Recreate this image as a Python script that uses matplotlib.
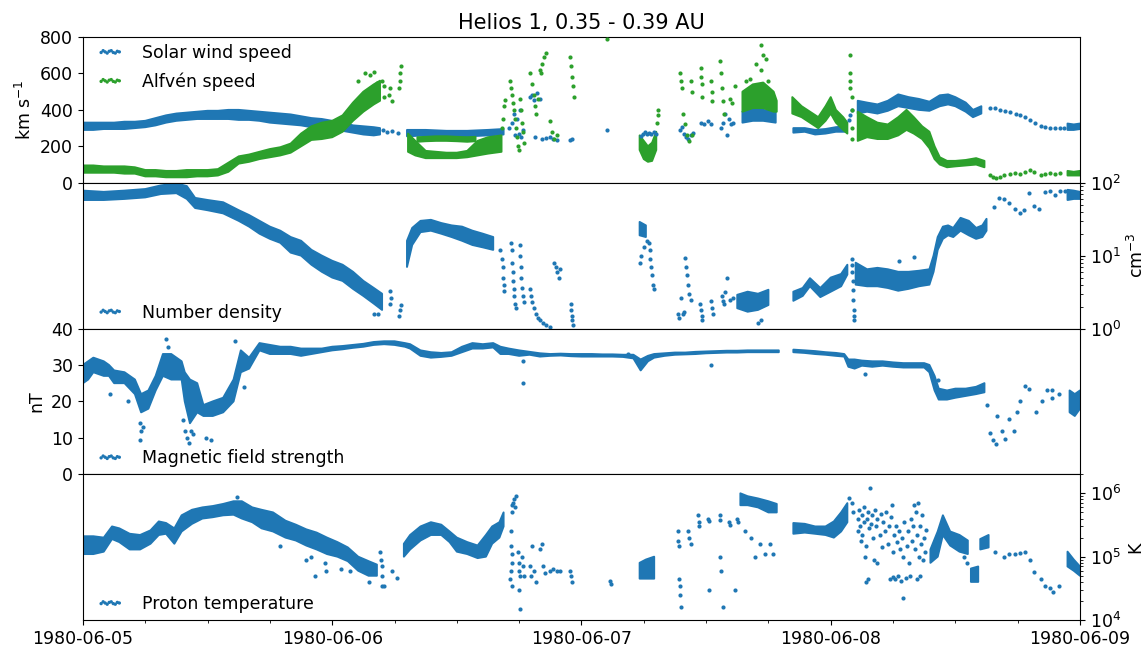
import numpy as np
import pandas as pd
import matplotlib
matplotlib.use("Agg")
import matplotlib.pyplot as plt
import matplotlib.dates as mdates

nan = np.nan
START = "1980-06-05"
BLUE = "#1f77b4"
GREEN = "#2ca02c"

# ---------------- Solar wind speed (km/s) ----------------
vsw_band_t = [0, 1, 2, 3, 4, 5, 6, 7, 8, 9, 10, 11, 12, 13, 14, 15, 16, 17, 18, 19, 20, 21, 22, 23, 24, 25, 26, 27, 28, 28.6,
              29.0,
              31.2, 33, 35, 37, 39, 40.5,
              41.0,
              63.5, 64.5, 65.5, 66.7,
              67.0,
              68.4, 69.5, 70.5, 71.5, 72.5, 73.5,
              74.0,
              74.6, 75.5, 76.5, 77.5, 78.5, 79.5, 80.5, 81.5, 82.5, 83.3, 84.0, 85.0, 85.7, 86.5,
              87.0,
              94.8, 95.4, 96]
vsw_band_lo = [290, 290, 295, 295, 295, 300, 305, 315, 330, 340, 345, 350, 350, 350, 350, 345, 345, 340, 330, 325, 320, 315, 305, 300, 290, 285, 275, 265, 260, 265,
               nan,
               255, 260, 260, 255, 260, 265,
               nan,
               330, 340, 340, 330,
               nan,
               275, 280, 265, 270, 280, 280,
               nan,
               380, 390, 380, 395, 420, 410, 400, 395, 420, 430, 420, 390, 360, 380,
               nan,
               290, 290, 295]
vsw_band_hi = [330, 330, 330, 330, 335, 335, 340, 355, 370, 380, 385, 390, 395, 395, 400, 400, 395, 390, 385, 380, 375, 365, 355, 350, 340, 330, 315, 310, 305, 300,
               nan,
               290, 290, 285, 285, 290, 295,
               nan,
               390, 420, 400, 390,
               nan,
               300, 300, 290, 295, 305, 310,
               nan,
               450, 440, 430, 450, 485, 470, 460, 445, 480, 485, 470, 440, 400, 420,
               nan,
               325, 320, 325]
vsw_pts_t = [28.9, 29.3, 29.8, 30.3, 41.0, 41.3, 41.5, 41.6, 41.8, 42.0, 42.1, 42.2, 42.4, 43.0, 43.2, 43.4, 43.7, 44.0,
             43.5, 44.2, 44.6, 45.0, 45.3, 45.6, 46.9, 47.1, 50.5,
             53.7, 53.9, 54.1, 54.3, 54.5, 54.7, 55.0, 55.2,
             57.5, 57.7, 57.9, 58.1, 58.3, 58.5, 58.7, 59.5, 59.8, 60.2, 60.5,
             61.4, 61.6, 61.8, 62.0, 62.2, 62.4, 62.6, 73.8, 73.9, 74.0,
             87.3, 87.8, 88.3, 88.8, 89.3, 89.8, 90.2, 90.7, 91.2, 91.7, 92.2, 92.6, 93.1, 93.6, 94.1, 94.5]
vsw_pts_v = [290, 280, 285, 275, 300, 330, 380, 260, 350, 270, 400, 250, 290, 470, 480, 455, 490, 460,
             250, 240, 245, 250, 240, 235, 235, 240, 290,
             255, 270, 280, 265, 275, 270, 280, 265,
             290, 305, 270, 250, 240, 260, 275, 330, 320, 340, 325,
             300, 330, 380, 260, 350, 320, 330, 345, 370, 400,
             413, 410, 400, 395, 390, 380, 372, 360, 345, 330, 312, 305, 300, 300, 300, 302]

# ---------------- Alfven speed (km/s) ----------------
va_band_t = [0, 1, 2, 3, 4, 5, 6, 7, 8, 9, 10, 11, 12, 13, 14, 15, 16, 17, 18, 19, 20, 21, 22, 23, 24, 25, 26, 27, 28, 28.6,
             29.0,
             31.3, 32, 33, 34, 35, 36, 37, 38, 39, 40.3,
             40.5,
             32.2, 33, 34, 35, 36, 37, 37.8,
             38.3,
             53.6, 54.0, 54.4, 54.8, 55.2,
             55.4,
             63.5, 64.5, 65.5, 66.5, 66.8,
             67.0,
             68.3, 69.2, 70.0, 70.8, 71.5, 72.0, 72.5, 73.2, 73.6,
             73.8,
             74.6, 75.5, 76.5, 77.5, 78.5, 79.3, 80.0, 80.8, 81.5, 82.0, 82.5, 83.2, 84, 85, 86, 86.8,
             87.0,
             94.8, 95.4, 96]
va_band_lo = [55, 55, 55, 55, 50, 50, 35, 35, 30, 30, 30, 35, 35, 40, 60, 105, 115, 130, 140, 150, 165, 200, 235, 240, 250, 280, 340, 390, 430, 450,
              nan,
              170, 150, 135, 135, 135, 135, 140, 150, 160, 170,
              nan,
              225, 228, 230, 230, 228, 225, 228,
              nan,
              180, 130, 115, 120, 180,
              nan,
              390, 410, 410, 390, 390,
              nan,
              380, 360, 330, 300, 340, 380, 330, 290, 270,
              nan,
              230, 250, 240, 240, 260, 290, 270, 240, 190, 130, 100, 85, 90, 95, 100, 85,
              nan,
              40, 40, 40]
va_band_hi = [95, 95, 90, 90, 90, 85, 70, 70, 65, 65, 70, 70, 70, 75, 110, 145, 155, 170, 185, 195, 215, 270, 310, 330, 340, 370, 440, 500, 540, 560,
              nan,
              270, 230, 175, 170, 165, 165, 175, 230, 250, 260,
              nan,
              250, 252, 255, 255, 252, 250, 252,
              nan,
              260, 230, 200, 220, 280,
              nan,
              500, 540, 550, 500, 450,
              nan,
              470, 420, 390, 360, 420, 470, 400, 360, 330,
              nan,
              390, 360, 330, 320, 360, 400, 360, 310, 280, 200, 140, 120, 120, 125, 135, 120,
              nan,
              65, 60, 65]
va_pts_t = [26.5, 27.2, 27.6, 28.0, 28.3, 28.8, 29.0, 29.0, 29.5, 29.6, 29.8, 30.4, 30.5, 30.5, 30.6,
            40.3, 40.4, 40.5, 40.6, 41.1, 41.2, 41.3, 41.4, 41.5, 41.6, 41.7, 41.8, 41.9, 42.0, 42.1, 42.2, 42.3, 42.4, 42.5,
            43.0, 43.2, 43.4, 43.5, 43.6, 43.8, 44.0, 44.2, 44.4, 44.6, 44.1, 45.0, 45.2, 45.4, 45.6,
            46.9, 47.0, 47.1, 47.2, 47.3, 50.5, 55.3, 55.4, 55.4,
            57.5, 57.6, 57.7, 57.8, 58.0, 58.2, 58.4, 58.6, 58.5, 58.6, 59.5, 59.5, 59.6, 59.6, 60.5, 60.6, 60.6,
            61.3, 61.4, 61.5, 61.6, 61.7, 62.3, 62.5, 62.8, 64.8, 65.3, 65.5, 65.8, 65.3, 64.2, 66.0, 63.8,
            73.9, 73.9, 73.9, 73.9, 74.0, 74.0, 74.0, 74.0,
            87.3, 87.6, 87.9, 88.3, 88.7, 89.3, 89.7, 90.2, 90.7, 91.2, 91.6, 92.2, 92.6, 93.1, 93.6, 94.1]
va_pts_v = [560, 600, 590, 610, 550, 560, 470, 530, 480, 520, 450, 520, 560, 600, 640,
            300, 350, 420, 455, 560, 520, 480, 440, 400, 350, 300, 250, 200, 180, 460, 400, 330, 280, 220,
            600, 540, 480, 420, 380, 460, 620, 650, 690, 710, 600, 340, 280, 240, 260,
            690, 640, 580, 530, 470, 790, 330, 370, 400,
            600, 560, 520, 380, 320, 260, 230, 260, 560, 500, 630, 580, 540, 470, 560, 500, 450,
            670, 600, 520, 450, 380, 460, 440, 530, 650, 755, 700, 680, 620, 570, 560, 560,
            700, 600, 560, 520, 470, 400, 300, 240,
            40, 30, 25, 30, 40, 50, 55, 50, 60, 70, 60, 45, 48, 55, 50, 55]

# ---------------- Number density (cm^-3) ----------------
n_band_t = [0, 2, 4, 6, 7.5, 9, 10, 10.8, 12, 13.5, 15, 16, 17, 18, 19, 20, 21, 22, 23, 24, 25, 26, 27, 28, 28.8,
            29.2,
            31.2, 31.7, 32.5, 33.5, 34.5, 35.5, 36.5, 37.5, 38.5, 39.5,
            40.0,
            53.6, 54.2,
            54.5,
            63.0, 64, 65, 66,
            66.5,
            68.4, 69.3, 70.0, 71.0, 72.0, 73.0, 73.6,
            74.0,
            74.4, 75.5, 76.5, 77.5, 78.5, 79.5, 80.5, 81.5, 81.9, 82.3, 82.8, 83.3, 83.8, 84.5, 85.3, 86.0, 86.6, 87.0,
            87.4,
            94.8, 95.4, 96]
n_band_lo = [58, 58, 60, 63, 70, 72, 60, 45, 42, 38, 30, 25, 20, 17, 15, 11, 10, 7.5, 6, 5, 4.5, 3.5, 2.8, 2.2, 1.8,
             nan,
             7, 14, 21, 22, 20, 18, 16, 14, 13, 12,
             nan,
             19, 18,
             nan,
             1.9, 1.7, 1.8, 2.1,
             nan,
             2.4, 2.8, 3.8, 2.7, 3.2, 3.8, 5.5,
             nan,
             4, 3.8, 3.8, 3.6, 3.3, 3.5, 3.8, 4, 6, 12, 17, 19, 18, 22, 19, 17, 18, 22,
             nan,
             58, 60, 60]
n_band_hi = [78, 75, 78, 82, 92, 98, 90, 62, 58, 54, 42, 36, 30, 25, 22, 18, 16, 12, 10, 8.5, 7.5, 6, 4.5, 3.6, 3.0,
             nan,
             16, 24, 30, 31, 28, 26, 25, 22, 20, 18,
             nan,
             29, 26,
             nan,
             2.9, 3.2, 3.0, 3.4,
             nan,
             3.2, 3.6, 4.9, 3.6, 5.0, 5.6, 7.5,
             nan,
             8, 6.5, 6.8, 6.5, 6, 6, 6.2, 6.5, 10, 18, 25, 26, 24, 33, 30, 24, 26, 32,
             nan,
             80, 78, 75]
n_pts_t = [29.6, 29.6, 29.7, 30.4, 30.5, 30.6, 28.0, 28.4,
           40.2, 40.3, 40.4, 40.4, 40.5, 40.5, 41.2, 41.3, 41.3, 41.4, 41.4, 41.5, 41.5, 41.6, 41.7,
           42.1, 42.1, 42.2, 42.2, 42.3, 42.4, 42.5, 43.0, 43.1, 43.2, 43.4, 43.6, 43.8, 44.0, 44.3, 44.6, 45.0,
           45.4, 45.5, 45.6, 45.8, 45.9, 47.0, 47.0, 47.1, 47.1, 47.2,
           53.6, 53.7, 54.0, 54.3, 54.5, 54.6, 54.6, 54.7, 54.8, 54.9, 55.0,
           57.3, 57.4, 57.6, 57.8, 57.9, 58.0, 58.1, 58.2, 58.3, 58.4, 58.5, 59.4, 59.5, 59.6, 59.6,
           60.5, 60.6, 60.7, 61.5, 61.6, 61.7, 61.8, 62.0, 62.3, 62.6, 65.0, 65.3,
           74.0, 74.0, 74.0, 74.1, 74.1, 74.1, 74.2, 74.2, 74.2, 78.6, 80.0,
           87.7, 88.2, 88.7, 89.2, 89.7, 90.2, 90.6, 91.1, 91.6, 92.1, 92.6, 93.1, 93.6, 94.1, 94.6]
n_pts_v = [2.2, 3.3, 2.6, 1.5, 1.8, 2.1, 1.6, 1.6,
           12, 9, 7, 5, 4, 3.3, 15, 12, 8, 6, 4.5, 3.5, 2.8, 2.2, 1.9,
           14, 10, 7, 5, 3.6, 2.8, 2.3, 3.5, 2.8, 2.3, 1.9, 1.6, 1.4, 1.3, 1.2, 1.1, 1.05,
           8, 7, 6, 5, 6.5, 2.2, 1.8, 1.5, 1.3, 1.1,
           8, 10, 13, 16, 15, 12, 9, 7, 5.5, 4, 3.5,
           1.6, 1.4, 2.6, 1.6, 1.7, 9.3, 7, 5.5, 4, 3, 2.5, 2.2, 1.8, 1.5, 1.3,
           2.4, 1.9, 1.6, 2.8, 2.4, 2.2, 3.2, 4.9, 2.5, 2.6, 1.2, 1.3,
           9, 7.5, 6, 4.5, 3.4, 2.5, 1.8, 1.5, 1.3, 8.5, 9.5,
           46, 62, 60, 53, 44, 38, 42, 73, 48, 44, 75, 78, 68, 78, 78]

# ---------------- Magnetic field strength (nT) ----------------
b_band_t = [0, 0.5, 1, 2, 2.5, 3, 4, 5, 5.6, 6.3, 7, 7.7, 8.5, 9.5, 9.8, 10.3, 11, 11.6, 12.5, 13.5, 14.5, 15.2, 16,
            17, 18, 19, 20, 21, 22, 23, 24, 25, 26, 27, 28, 29, 30, 31, 31.5, 32.5, 33.5, 34.5, 35.5, 36.5, 37.5,
            38.5, 39.5, 40.2, 41, 42, 43, 44, 45, 46, 47, 48, 49, 50, 51, 52, 53, 53.7, 54.4, 55, 56, 57, 58, 59,
            60, 61, 62, 63, 64, 65, 66, 67,
            67.5,
            68.4, 69.5, 70.5, 71.5, 72.5, 73.3, 73.7, 74.3, 75, 76, 77, 78, 79, 80, 81, 81.5, 82, 82.4, 83.2, 84,
            85, 86, 86.8,
            87.0,
            95, 95.5, 96]
b_band_lo = [25, 26, 28, 27, 27, 25, 25, 22, 17, 18, 23, 27, 26, 26, 20, 14, 17, 16, 16, 17, 20, 28, 29,
             34, 33, 33, 33, 32.5, 33, 33.5, 34, 34.3, 34.7, 35, 35.5, 35.7, 35.5, 35, 34.5, 32.5, 32, 32.2, 32.5, 33.5, 34.5,
             34.5, 34.8, 33, 33, 32.5, 32.8, 32.3, 32.5, 32.6, 32.4, 32.3, 32.3, 32.3, 32.3, 32.2, 31.8, 28.5, 31, 32, 32.5, 32.8, 32.9, 33,
             33.2, 33.3, 33.4, 33.4, 33.5, 33.5, 33.5, 33.5,
             nan,
             33.5, 33.3, 33, 32.8, 32.5, 32.3, 29.5, 29, 29.8, 29.5, 29.8, 29.5, 29.3, 29.3, 29.3, 28, 23, 20.5, 20.5, 21,
             21.5, 22, 22.5,
             nan,
             17, 16, 18]
b_band_hi = [30, 31, 32, 31, 30, 28.5, 28, 26, 22, 23, 27, 33, 33, 31, 28, 26, 25, 19, 20, 21, 26, 34, 32,
             36, 35.5, 35, 35, 34.5, 34.5, 34.5, 35, 35.2, 35.5, 35.8, 36.3, 36.5, 36.5, 36, 35.7, 34, 33.5, 33.3, 33.5, 35, 36,
             35.7, 36, 35, 34.5, 34, 33.6, 33.2, 33, 33.1, 33, 33, 33, 32.9, 32.9, 32.8, 32.8, 31.5, 32.5, 33, 33.2, 33.4, 33.4, 33.6,
             33.7, 33.8, 33.9, 33.9, 34, 34, 34, 34,
             nan,
             34.2, 34, 33.8, 33.5, 33.3, 33, 31.5, 31.5, 31.2, 31, 31, 30.7, 30.5, 30.5, 30.5, 30, 27, 23.5, 23, 23.5,
             23.5, 24, 25,
             nan,
             23, 22, 23]
b_pts_t = [5.5, 5.6, 5.5, 5.8, 9.8, 10.0, 10.2, 10.4, 11.8, 12.3, 8.0, 8.2, 14.6, 2.6, 4.3, 15.5, 9.6, 10.6,
           42.4, 42.4, 52.5, 60.5, 75.3, 82.3,
           87.0, 87.3, 87.6, 87.9, 88.0, 88.5, 88.8, 89.2, 89.6, 89.9, 90.2, 90.7, 91.1, 91.8, 92.3, 92.8, 93.3, 93.3, 94.0]
b_pts_v = [14, 12, 9.5, 13, 12, 10, 8.5, 12, 10, 9.5, 37, 35, 36.5, 22, 20, 24, 15, 11,
           31, 25, 33, 30, 27.5, 26,
           19, 11.2, 9.5, 8.2, 16, 12, 9.7, 15.2, 12, 17, 20, 24.3, 23.5, 17, 20, 23, 21, 23, 22]

# ---------------- Proton temperature (K) ----------------
t_band_t = [0, 1, 2, 2.8, 3.5, 4.5, 5.5, 6.5, 7.3, 8, 8.8, 9.5, 10.5, 11.5, 12.5, 13.5, 14.5, 15.3, 16.3, 17.2,
            18.3, 19.5, 20.5, 21.5, 22.5, 23.5, 24.5, 25.5, 26.5, 27.5, 28.3,
            28.5,
            30.9, 31.5, 32.5, 33.5, 34.5, 35.3, 36, 37, 38, 38.8, 39.4, 40.1, 40.5,
            40.8,
            53.6, 54.2, 55,
            55.3,
            63.3, 64, 65, 66, 66.8,
            67,
            68.4, 69.5, 70.5, 71.5, 72.3, 73, 73.6,
            74,
            81.6, 82.3, 82.8, 83.5, 84.4, 85.2,
            85.3,
            85.5, 86.2,
            86.3,
            86.4, 87.2,
            87.4,
            94.8, 95.4, 96]
t_band_lo = [1.1e5, 1.1e5, 1.2e5, 1.9e5, 1.7e5, 1.3e5, 1.3e5, 1.6e5, 2.2e5, 2.3e5, 1.6e5, 2.5e5, 3.3e5, 4e5, 4.2e5, 4.5e5, 4.6e5, 4e5, 3.5e5, 2.8e5,
             2.5e5, 2e5, 1.8e5, 1.5e5, 1.3e5, 1.1e5, 1e5, 8.5e4, 6e4, 5e4, 5e4,
             nan,
             1e5, 1.3e5, 1.8e5, 2.2e5, 2.2e5, 1.7e5, 1.2e5, 1.1e5, 9.5e4, 1e5, 1.6e5, 2e5, 3e5,
             nan,
             4.5e4, 4.5e4, 4.5e4,
             nan,
             6.5e5, 6.5e5, 6e5, 5e5, 5e5,
             nan,
             2.3e5, 2.4e5, 2.3e5, 2.2e5, 2e5, 2.5e5, 3.5e5,
             nan,
             8e4, 1e5, 2.2e5, 1.5e5, 1.2e5, 1.1e5,
             nan,
             4e4, 4e4,
             nan,
             1.3e5, 1.4e5,
             nan,
             7e4, 6e4, 5e4]
t_band_hi = [2.1e5, 2.1e5, 2e5, 3e5, 2.8e5, 2.3e5, 2.2e5, 2.6e5, 3.6e5, 3.4e5, 2.8e5, 4.5e5, 5.5e5, 6e5, 6.3e5, 6.8e5, 7.5e5, 7.5e5, 6e5, 5.5e5,
             5e5, 3.7e5, 3.2e5, 2.7e5, 2.4e5, 2e5, 1.7e5, 1.4e5, 1e5, 8.5e4, 7.5e4,
             nan,
             1.6e5, 2.2e5, 3e5, 3.5e5, 3.2e5, 2.5e5, 2e5, 1.7e5, 1.5e5, 2.2e5, 3e5, 3.5e5, 5e5,
             nan,
             8e4, 9e4, 1e5,
             nan,
             1e6, 9e5, 8.3e5, 7.5e5, 6.8e5,
             nan,
             3.4e5, 3.3e5, 3e5, 3e5, 3.6e5, 5e5, 7e5,
             nan,
             1.3e5, 2.5e5, 4.5e5, 2.5e5, 2.2e5, 1.8e5,
             nan,
             6.5e4, 7e4,
             nan,
             1.9e5, 2.2e5,
             nan,
             1.2e5, 9e4, 7e4]
t_pts_t = [14.8, 19.0, 21.5, 22.0, 23.3, 23.4, 22.3, 24.8, 25.7, 27.5, 28.6, 28.7, 28.8, 28.8, 28.8, 29.0, 29.8, 30.2,
           41.3, 41.3, 41.4, 41.5, 41.6, 41.7, 41.2, 41.2, 41.3, 41.3, 41.2, 41.1, 41.3, 41.9, 42.0, 42.0, 42.1, 42.0, 42.1,
           42.3, 42.4, 42.5, 43.0, 43.1, 43.2, 43.4, 43.6, 44.0, 44.2, 44.3, 44.5, 45.0, 45.3, 45.6, 45.9, 46.9, 47.0, 47.1,
           50.7, 50.8,
           57.3, 57.3, 57.4, 57.4, 57.5, 57.5, 57.6, 58.3, 58.4, 58.5, 59.2, 59.3, 59.3, 60.2, 60.3, 60.3,
           61.3, 61.3, 61.3, 61.4, 61.6, 62.2, 62.3, 62.8, 63.0, 63.1,
           63.7, 64.3, 64.7, 65.2, 65.7, 66.2, 66.4, 73.8, 74.0, 74.1, 75.8,
           74.6, 74.6, 74.7, 74.8, 74.9, 75.0, 75.0, 75.2, 75.2, 75.3, 75.4, 75.5, 75.6, 75.7, 75.9, 76.0, 76.1, 76.2,
           76.3, 76.4, 76.5, 76.7, 76.8, 76.9, 77.0, 77.2, 77.3, 77.5, 77.6, 77.8, 77.9, 78.0, 78.1, 78.2, 78.3, 78.4,
           78.5, 78.6, 78.7, 78.8, 78.9, 79.0, 79.1, 79.2, 79.3, 79.4, 79.5, 79.6, 79.7, 79.8, 79.9, 80.0, 80.1, 80.2,
           80.3, 80.4, 80.5, 80.6, 80.7, 80.8, 81.0, 81.1, 81.2, 75.6, 75.4, 79.0, 76.5, 80.9, 77.7, 78.0, 80.3, 80.6,
           84.8, 85.1, 87.8, 88.7, 89.2, 89.7, 90.2, 90.7, 91.2, 91.6, 92.2, 92.6, 93.1, 93.4, 94.0]
t_pts_v = [8.7e5, 1.5e5, 9e4, 1e5, 8e4, 6e4, 5e4, 6.5e4, 6e4, 4e4, 1.2e5, 9e4, 7e4, 5e4, 3.5e4, 3.5e4, 6e4, 4.6e4,
           5e5, 6.5e5, 7e5, 8e5, 6e5, 9e5, 2.5e5, 1.5e5, 1.1e5, 8e4, 6e4, 4.5e4, 3.5e4, 1.2e5, 8e4, 6e4, 5e4, 3e4, 1.5e4,
           1e5, 7e4, 5e4, 7e4, 5e4, 1.5e5, 6e4, 4e4, 1.3e5, 1.6e5, 7e4, 5.5e4, 6e4, 6.5e4, 6e4, 6e4, 6e4, 5e4, 4e4,
           4.2e4, 3.7e4,
           2.5e5, 1.8e5, 1.5e5, 4.5e4, 3.5e4, 2.5e4, 1.6e4, 2.5e5, 2e5, 1.6e5, 4.5e5, 3.5e5, 3e5, 4e5, 3.6e5, 3e4,
           4.5e5, 3.8e5, 1e5, 6e4, 1.6e4, 3.5e5, 3.2e5, 3e4, 4e5, 3.5e5,
           2.5e5, 2e5, 1e5, 1.6e5, 1.1e5, 1.6e5, 1.1e5, 8.5e5, 7e5, 5e5, 1.2e6,
           2.5e5, 4e5, 5.5e5, 3e5, 1.8e5, 4.5e5, 2.2e5, 6e5, 3.5e5, 1e5, 1.5e5, 4e5, 5e5, 2.8e5, 3.3e5, 4.5e5, 2e5, 9e4,
           5.5e5, 3e5, 4e5, 2.2e5, 4.8e5, 1.4e5, 3.5e5, 2.5e5, 5e5, 1.6e5, 3e5, 4.2e5, 6.5e5, 1.2e5, 2.2e5, 4.5e4, 3e5, 1.7e5,
           5e4, 2.5e5, 1.3e5, 4.2e4, 2e5, 1e5, 3.5e5, 4.6e4, 1.5e5, 2.5e5, 8e4, 5e4, 4e5, 1.8e5, 3e5, 6.5e5, 1.3e5, 5e5,
           2.2e5, 7e5, 1e5, 3e5, 1.6e5, 4.5e5, 2e5, 1.2e5, 2.6e5, 4.5e4, 4e4, 2.2e4, 8e4, 9e4, 4.5e4, 4.8e4, 4.4e4, 5e4,
           1e5, 8e4, 1.2e5, 1e5, 1.1e5, 1.1e5, 1.15e5, 1.2e5, 9e4, 5.8e4, 4.5e4, 3.5e4, 3.2e4, 2.8e4, 3.5e4]


def hrs(h):
    return (pd.Timestamp(START) + pd.to_timedelta(np.asarray(h, dtype=float), unit="h")).to_numpy()


def draw(ax, bt, blo, bhi, pt, pv, color, label):
    ax.fill_between(hrs(bt), np.asarray(blo, float), np.asarray(bhi, float),
                    color=color, edgecolor=color, linewidth=1.4, zorder=2)
    return ax.scatter(hrs(pt), pv, s=9, color=color, linewidths=0, zorder=3, label=label)


plt.rcParams["font.size"] = 12.5
plt.rcParams["font.family"] = ["DejaVu Sans"]

fig = plt.figure(figsize=(11.46, 6.47), dpi=100)
fig.subplots_adjust(left=0.0724, right=0.9424, top=0.9428, bottom=0.0417, hspace=0)
axs = fig.subplots(4, 1, sharex=True)
ax1, ax2, ax3, ax4 = axs

h1 = draw(ax1, vsw_band_t, vsw_band_lo, vsw_band_hi, vsw_pts_t, vsw_pts_v, BLUE, "Solar wind speed")
h2 = draw(ax1, va_band_t, va_band_lo, va_band_hi, va_pts_t, va_pts_v, GREEN, "Alfvén speed")
ax1.set_ylim(0, 800)
ax1.set_yticks([0, 200, 400, 600, 800])
ax1.set_ylabel("km s$^{-1}$")
ax1.set_title("Helios 1, 0.35 - 0.39 AU", fontsize=15)

draw(ax2, n_band_t, n_band_lo, n_band_hi, n_pts_t, n_pts_v, BLUE, "Number density")
ax2.set_yscale("log")
ax2.set_ylim(1, 100)
ax2.yaxis.tick_right()
ax2.yaxis.set_label_position("right")
ax2.set_ylabel("cm$^{-3}$")

draw(ax3, b_band_t, b_band_lo, b_band_hi, b_pts_t, b_pts_v, BLUE, "Magnetic field strength")
ax3.set_ylim(0, 40)
ax3.set_yticks([0, 10, 20, 30, 40])
ax3.set_ylabel("nT")

draw(ax4, t_band_t, t_band_lo, t_band_hi, t_pts_t, t_pts_v, BLUE, "Proton temperature")
ax4.set_yscale("log")
ax4.set_ylim(1e4, 2e6)
ax4.yaxis.tick_right()
ax4.yaxis.set_label_position("right")
ax4.set_ylabel("K")

leg_kw = dict(frameon=False, scatterpoints=10, handlelength=1.65, handletextpad=1.0,
              scatteryoffsets=[0.45, 0.6, 0.5, 0.4, 0.55, 0.6, 0.45, 0.4, 0.55, 0.5],
              markerscale=0.8, borderaxespad=0.0, labelspacing=0.6)
ax1.legend(handles=[h1, h2], loc="upper left", bbox_to_anchor=(0.006, 1.0), **leg_kw)
for ax in (ax2, ax3, ax4):
    ax.legend(loc="lower left", bbox_to_anchor=(0.006, 0.0), **leg_kw)

for ax in (ax1, ax2, ax3):
    ax.tick_params(axis="x", which="both", bottom=False, labelbottom=False)

ax4.set_xlim(pd.Timestamp("1980-06-05"), pd.Timestamp("1980-06-09"))
ax4.xaxis.set_major_locator(mdates.DayLocator())
ax4.xaxis.set_major_formatter(mdates.DateFormatter("%Y-%m-%d"))
ax4.xaxis.set_minor_locator(mdates.HourLocator(byhour=[6, 12, 18]))

fig.savefig("out.png", dpi=100)
